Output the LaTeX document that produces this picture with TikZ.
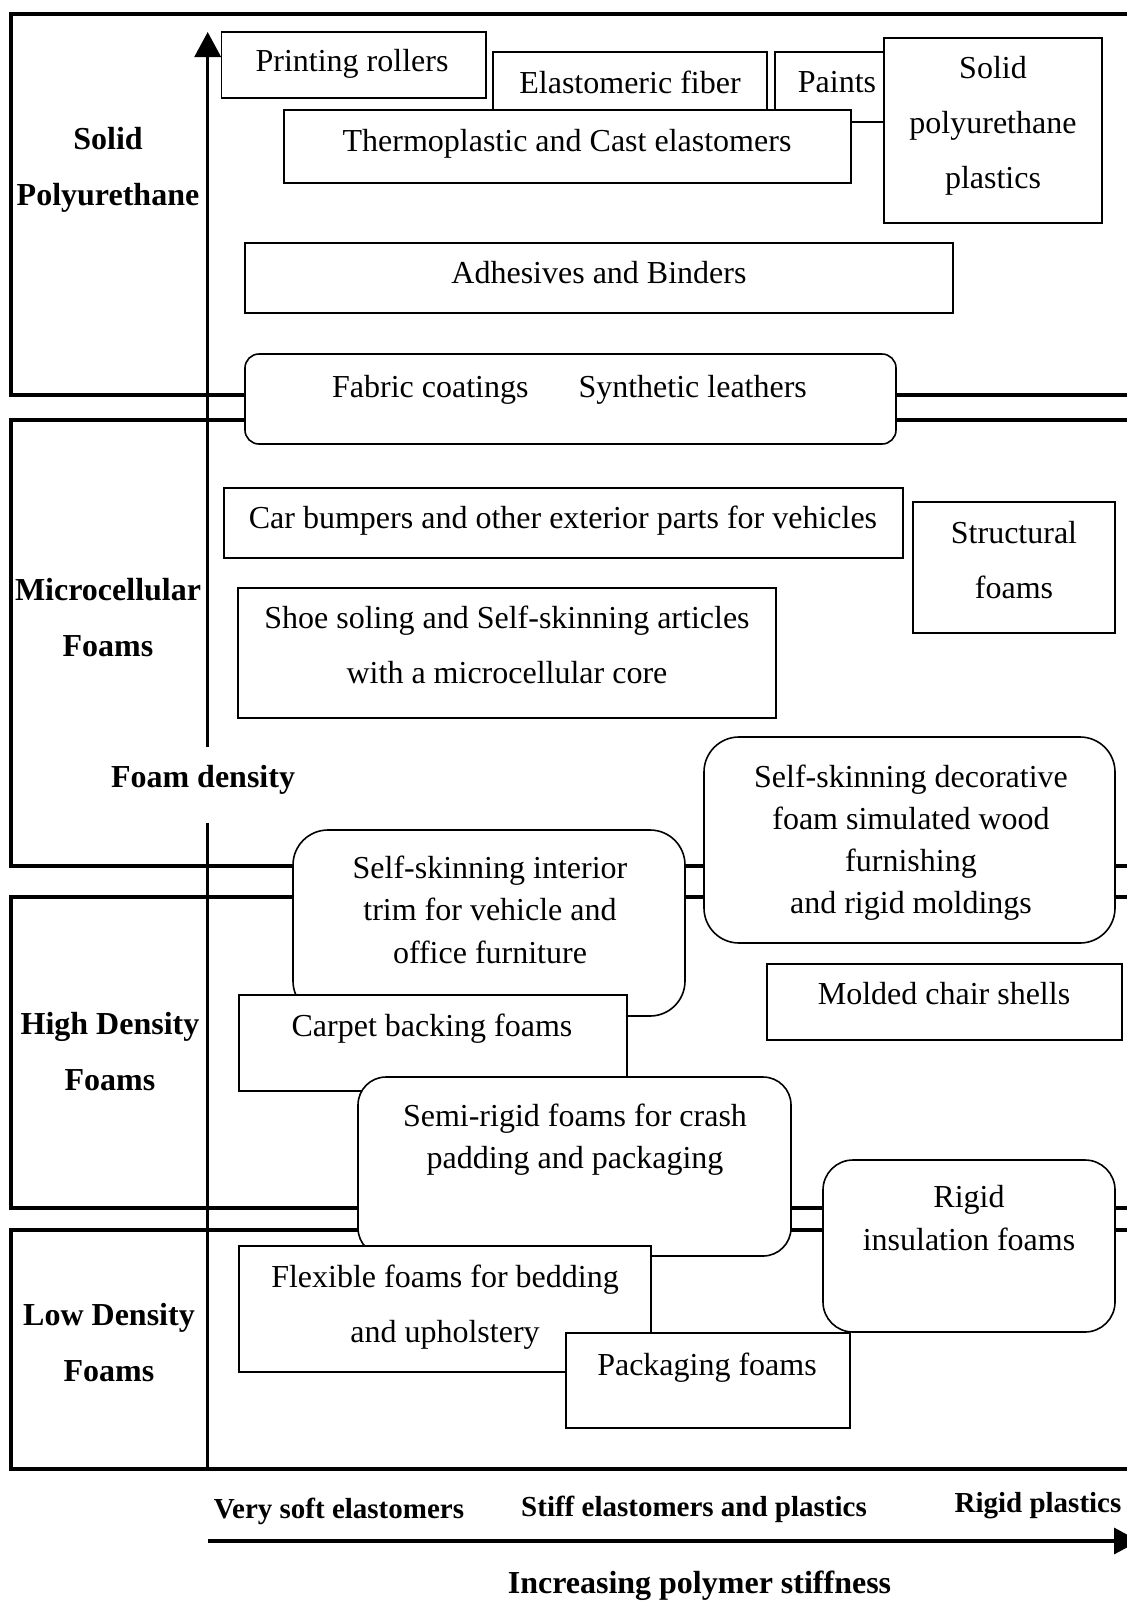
\documentclass[tikz,border=0pt]{standalone}
\usepackage{fontspec}
\setmainfont{Liberation Serif}
\usetikzlibrary{arrows.meta}
\begin{document}
\begin{tikzpicture}[x=1pt,y=-1pt,
  band/.style={line width=3.5pt, line join=miter},
  axisline/.style={line width=3.5pt},
  bx/.style={draw, line width=1.6pt, fill=white, inner sep=0pt, outer sep=0pt},
  rbx/.style={bx, rounded corners=#1},
  rbx/.default=30pt,
  tx/.style={inner sep=0pt, align=center, font=\fontsize{32}{42}\selectfont},
  lb/.style={inner sep=0pt, align=center, font=\bfseries\fontsize{32}{56}\selectfont},
  axlab/.style={inner sep=0pt, font=\bfseries\fontsize{29}{35}\selectfont}
]
\useasboundingbox (0,0) rectangle (1127,1601);
\clip (0,0) rectangle (1127,1601);
\fill[white] (0,0) rectangle (1127,1601);

% bands
\draw[band] (1140,14) -- (11,14) -- (11,395) -- (1140,395);
\draw[band] (1140,420) -- (11,420) -- (11,866) -- (1140,866);
\draw[band] (1140,897) -- (11,897) -- (11,1208) -- (1140,1208);
\draw[band] (1140,1230) -- (11,1230) -- (11,1469) -- (1140,1469);

% axes
\node[lb] (fd) at (203,780) {Foam density};
\coordinate (ybot) at (207.7,1469);
\coordinate (ygapb) at (207.7,823);
\coordinate (ygapt) at (207.7,747);
\coordinate (ytop) at (207.7,32);
\draw[axisline] (ybot) -- (ygapb);
\draw[axisline, -{Triangle[length=25pt,width=26pt]}] (ygapt) -- (ytop);
\coordinate (xl) at (208,1541);
\coordinate (xr) at (1139,1541);
\draw[axisline, -{Triangle[length=25pt,width=26pt]}] (xl) -- (xr);

% left labels
\node[lb] (lsolid) at (108,170) {Solid\\Polyurethane};
\node[lb] (lmicro) at (108,617.5) {Microcellular\\Foams};
\node[lb] (lhigh) at (110,1052) {High Density\\Foams};
\node[lb] (llow) at (109,1343) {Low Density\\Foams};

% bottom labels
\node[axlab] (vsoft) at (339,1511) {Very soft elastomers};
\node[axlab] (stiff) at (694,1509) {Stiff elastomers and plastics};
\node[axlab] (rigidp) at (1038,1506) {Rigid plastics};
\node[lb] (incr) at (699.5,1586) {Increasing polymer stiffness};

% solid polyurethane region
\node[bx, minimum width=264.5pt, minimum height=66pt] (bprint) at (353.75,65) {};
\node[tx] (tprint) at (352,64) {Printing rollers};
\node[bx, minimum width=274pt, minimum height=70pt] (belast) at (630,87) {};
\node[tx] (telast) at (630,82) {Elastomeric fiber};
\node[bx, minimum width=125pt, minimum height=70pt] (bpaint) at (837.5,87) {};
\node[tx] (tpaint) at (837,82.5) {Paints};
\node[bx, minimum width=567pt, minimum height=73pt] (bthermo) at (567.5,146.5) {};
\node[tx] (tthermo) at (567,144) {Thermoplastic and Cast elastomers};
\node[bx, minimum width=218pt, minimum height=185pt] (bsolid) at (993,130.5) {};
\node[tx, font=\fontsize{32}{55}\selectfont] (tsolid) at (993,125.5) {Solid\\polyurethane\\plastics};
\node[bx, minimum width=708pt, minimum height=70pt] (badh) at (599,278) {};
\node[tx] (tadh) at (599,273) {Adhesives and Binders};
\node[rbx=14pt, minimum width=651pt, minimum height=90pt] (bfab) at (570.5,399) {};
\node[tx] (tfab) at (569.5,390) {Fabric coatings\hspace{50pt}Synthetic leathers};

% microcellular region
\node[bx, minimum width=679pt, minimum height=70pt] (bcar) at (563.5,523) {};
\node[tx] (tcar) at (563,521) {Car bumpers and other exterior parts for vehicles};
\node[bx, minimum width=538pt, minimum height=130pt] (bshoe) at (507,653) {};
\node[tx, font=\fontsize{32}{55}\selectfont] (tshoe) at (507,645) {Shoe soling and Self-skinning articles\\with a microcellular core};
\node[bx, minimum width=202pt, minimum height=131pt] (bstruct) at (1014,567.5) {};
\node[tx, font=\fontsize{32}{55}\selectfont] (tstruct) at (1014,560) {Structural\\foams};

% high density region
\node[rbx=35pt, minimum width=392pt, minimum height=186pt] (btrim) at (489,923) {};
\node[tx, font=\fontsize{32}{42.5}\selectfont] (ttrim) at (490,909.5) {Self-skinning interior\\trim for vehicle and\\office furniture};
\node[rbx=35pt, minimum width=411pt, minimum height=206pt] (bdeco) at (909.5,840) {};
\node[tx] (tdeco) at (911,842.5) {Self-skinning decorative\\foam simulated wood\\furnishing\\and rigid moldings};
\node[bx, minimum width=355pt, minimum height=76pt] (bmold) at (944.5,1002) {};
\node[tx] (tmold) at (944,994) {Molded chair shells};
\node[bx, minimum width=388pt, minimum height=96pt] (bcarpet) at (433,1043) {};
\node[tx] (tcarpet) at (432,1029) {Carpet backing foams};
\node[rbx=28pt, minimum width=433pt, minimum height=179pt] (bsemi) at (574.5,1166.5) {};
\node[tx] (tsemi) at (575,1140) {Semi-rigid foams for crash\\padding and packaging};
\node[rbx=30pt, minimum width=292pt, minimum height=172pt] (brigid) at (969,1246) {};
\node[tx, font=\fontsize{32}{43}\selectfont] (trigid) at (969,1218) {Rigid\\insulation foams};

% low density region
\node[bx, minimum width=412pt, minimum height=126pt] (bflex) at (445,1309) {};
\node[tx, font=\fontsize{32}{55}\selectfont] (tflex) at (445,1307.5) {Flexible foams for bedding\\and upholstery};
\node[bx, minimum width=284pt, minimum height=95pt] (bpack) at (708,1380.5) {};
\node[tx] (tpack) at (707,1368) {Packaging foams};
\end{tikzpicture}
\end{document}
